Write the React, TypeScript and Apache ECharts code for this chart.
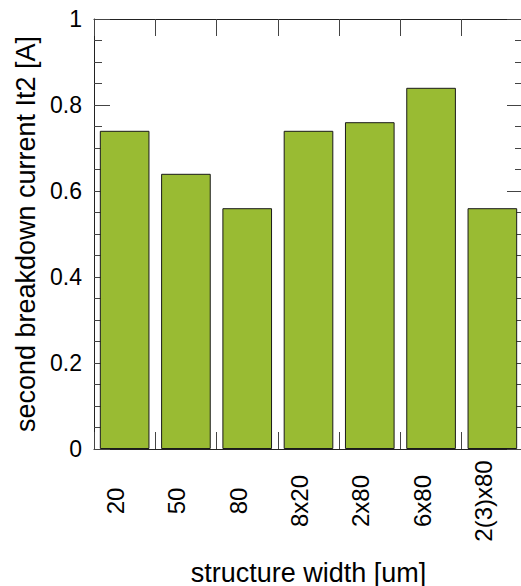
import React, { useEffect, useRef } from "react";
import * as echarts from "echarts";

const categories = ["20", "50", "80", "8x20", "2x80", "6x80", "2(3)x80"];
const it2Values = [0.74, 0.64, 0.56, 0.74, 0.76, 0.84, 0.56];
const yTicks = { min: 0, max: 1, interval: 0.2 };
const yTitle = "second breakdown current It2 [A]";
const xTitle = "structure width [um]";

const FONT = "'Liberation Sans', Arial, Helvetica, sans-serif";
const AXIS_COLOR = "#222";
const TICK_COLOR = "#444";

export default function App() {
  const ref = useRef<HTMLDivElement>(null);
  useEffect(() => {
    if (!ref.current) return;
    const chart = echarts.init(ref.current, null, { renderer: "svg" });
    const yCommon = {
      type: "value" as const,
      min: yTicks.min,
      max: yTicks.max,
      interval: yTicks.interval,
      splitLine: { show: false },
      axisLine: { show: true, lineStyle: { color: AXIS_COLOR, width: 1 } },
      axisTick: { show: true, inside: true, length: 16, lineStyle: { color: TICK_COLOR } },
      minorTick: { show: true, splitNumber: 4, length: 8, lineStyle: { color: TICK_COLOR } },
      minorSplitLine: { show: false },
    };
    const xCommon = {
      type: "category" as const,
      data: categories,
      splitLine: { show: false },
      axisLine: { show: true, onZero: false, lineStyle: { color: AXIS_COLOR, width: 1 } },
      axisTick: { show: true, inside: true, length: 17, lineStyle: { color: TICK_COLOR } },
    };
    chart.setOption({
      animation: false,
      backgroundColor: "#fff",
      textStyle: { fontFamily: FONT },
      grid: {
        left: 94,
        right: -2,
        top: 19,
        bottom: 137,
        outerBoundsMode: "none",
        containLabel: false,
      },
      xAxis: [
        {
          ...xCommon,
          position: "bottom",
          name: xTitle,
          nameLocation: "middle",
          nameGap: 110,
          nameTextStyle: { fontSize: 27, color: "#000", fontFamily: FONT },
          axisLabel: {
            show: true,
            rotate: 90,
            align: "center",
            verticalAlign: "bottom",
            lineHeight: 18,
            margin: 52,
            fontSize: 24,
            color: "#000",
            fontFamily: FONT,
            interval: 0,
          },
        },
        {
          ...xCommon,
          position: "top",
          axisLabel: { show: false },
        },
      ],
      yAxis: [
        {
          ...yCommon,
          position: "left",
          name: yTitle,
          nameLocation: "middle",
          nameGap: 53,
          nameTextStyle: { fontSize: 27, color: "#000", fontFamily: FONT },
          axisLabel: {
            show: true,
            margin: 12,
            fontSize: 23,
            color: "#000",
            fontFamily: FONT,
            formatter: (v: number) => String(Math.round(v * 10) / 10),
          },
        },
        {
          ...yCommon,
          position: "right",
          axisLabel: { show: false },
        },
      ],
      series: [
        {
          type: "bar",
          data: it2Values,
          xAxisIndex: 0,
          yAxisIndex: 0,
          barCategoryGap: "19%",
          itemStyle: { color: "#99bb33", borderColor: "#1a1a1a", borderWidth: 1 },
        },
      ],
    });
    return () => chart.dispose();
  }, []);
  return (
    <div
      ref={ref}
      style={{ position: "fixed", left: 0, top: 0, width: 521, height: 586 }}
    />
  );
}
